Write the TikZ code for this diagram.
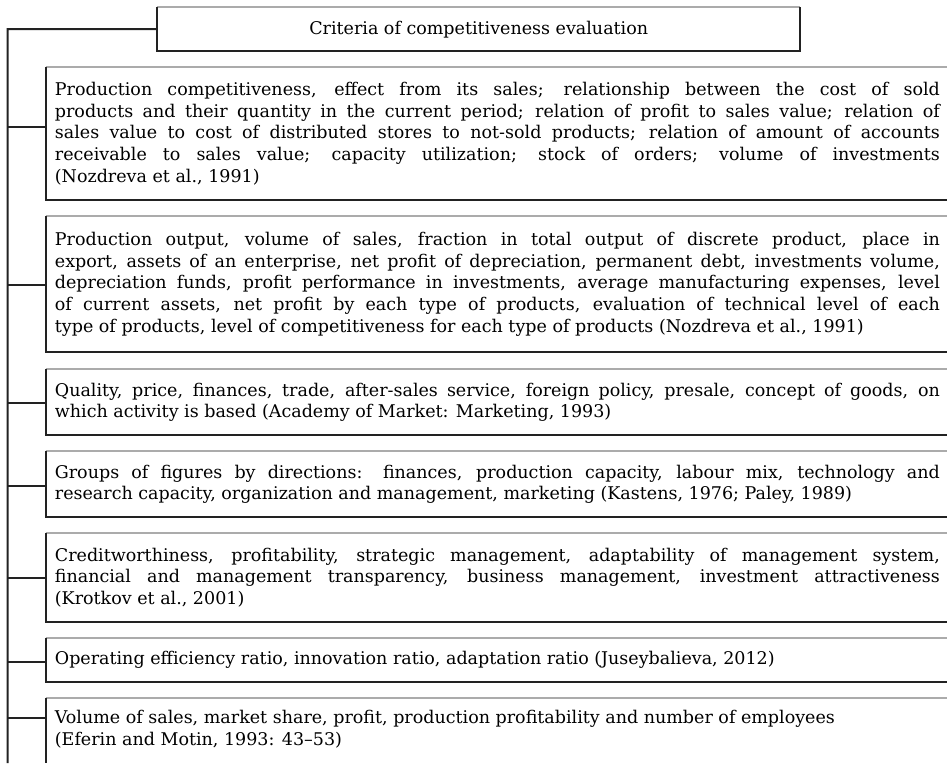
\documentclass[tikz,border=0pt]{standalone}
\usepackage{tikz}
\usepackage{xcolor}
\usepackage{fontspec}
\setmainfont{DejaVu Serif}
\usetikzlibrary{calc}

\definecolor{edge}{HTML}{222222}
\definecolor{rim}{HTML}{ABABAB}

\tikzset{
	crit/.style={anchor=north west, inner xsep=9pt, inner ysep=0pt, text width=885pt, align=justify, font=\fontsize{17.5}{21.7}\selectfont},
	dark/.style={draw=edge, line width=2pt},
	light/.style={draw=rim, line width=1.3pt},
}

\begin{document}
\begin{tikzpicture}[x=1pt,y=-1pt]
	\useasboundingbox (0,0) rectangle (947,763);
	
	% heading
	\node[anchor=north west, inner sep=0pt, minimum width=643pt, minimum height=44pt, font=\fontsize{17.5}{21.7}\selectfont] (head) at (157,7) {Criteria of competitiveness evaluation};
	
	% criteria
	\node[crit, minimum height=133pt] (c1) at (45.7,67) {Production competitiveness, effect from its sales; relationship between the cost of sold\linebreak products and their quantity in the current period; relation of profit to sales value; relation of\linebreak sales value to cost of distributed stores to not-sold products; relation of amount of accounts\linebreak receivable to sales value; capacity utilization; stock of orders; volume of investments\linebreak (Nozdreva et al., 1991)};
	\node[crit, minimum height=136pt] (c2) at (45.7,216) {Production output, volume of sales, fraction in total output of discrete product, place in\linebreak export, assets of an enterprise, net profit of depreciation, permanent debt, investments volume,\linebreak depreciation funds, profit performance in investments, average manufacturing expenses, level\linebreak of current assets, net profit by each type of products, evaluation of technical level of each\linebreak type of products, level of competitiveness for each type of products (Nozdreva et al., 1991)};
	\node[crit, minimum height=66pt] (c3) at (45.7,369) {Quality, price, finances, trade, after-sales service, foreign policy, presale, concept of goods, on\linebreak which activity is based (Academy of Market: Marketing, 1993)};
	\node[crit, minimum height=66pt] (c4) at (45.7,451) {Groups of figures by directions: finances, production capacity, labour mix, technology and\linebreak research capacity, organization and management, marketing (Kastens, 1976; Paley, 1989)};
	\node[crit, minimum height=89pt] (c5) at (45.7,533) {Creditworthiness, profitability, strategic management, adaptability of management system,\linebreak financial and management transparency, business management, investment attractiveness\linebreak (Krotkov et al., 2001)};
	\node[crit, minimum height=44pt] (c6) at (45.7,638) {Operating efficiency ratio, innovation ratio, adaptation ratio (Juseybalieva, 2012)};
	\node[crit, minimum height=62pt] (c7) at (45.7,698) {Volume of sales, market share, profit, production profitability and number of employees\\ (Eferin and Motin, 1993: 43--53)};
	
	% frames
	\draw[light] (head.north west) -- (head.north east);
	\draw[dark] (head.north west) -- (head.south west) -- (head.south east) -- (head.north east);
	\draw[light] (c1.north west) -- (c1.north east);
	\draw[dark] (c1.south east) -- (c1.south west) -- (c1.north west);
	\draw[light] (c2.north west) -- (c2.north east);
	\draw[dark] (c2.south east) -- (c2.south west) -- (c2.north west);
	\draw[light] (c3.north west) -- (c3.north east);
	\draw[dark] (c3.south east) -- (c3.south west) -- (c3.north west);
	\draw[light] (c4.north west) -- (c4.north east);
	\draw[dark] (c4.south east) -- (c4.south west) -- (c4.north west);
	\draw[light] (c5.north west) -- (c5.north east);
	\draw[dark] (c5.south east) -- (c5.south west) -- (c5.north west);
	\draw[light] (c6.north west) -- (c6.north east);
	\draw[dark] (c6.south east) -- (c6.south west) -- (c6.north west);
	\draw[light] (c7.north west) -- (c7.north east);
	
	% trunk and branches
	\coordinate (top) at (7.5,29);
	\coordinate (bot) at (7.5,763);
	\draw[dark] (c7.north west) -- (c7.north west |- bot);
	\draw[dark] (bot) -- (top) -- (head.west);
	\draw[dark] ($(c1.north west)+(0,60)$) coordinate (j1) -- (j1 -| top);
	\draw[dark] ($(c2.north west)+(0,69)$) coordinate (j2) -- (j2 -| top);
	\draw[dark] ($(c3.north west)+(0,34)$) coordinate (j3) -- (j3 -| top);
	\draw[dark] ($(c4.north west)+(0,35)$) coordinate (j4) -- (j4 -| top);
	\draw[dark] ($(c5.north west)+(0,45)$) coordinate (j5) -- (j5 -| top);
	\draw[dark] ($(c6.north west)+(0,24)$) coordinate (j6) -- (j6 -| top);
	\draw[dark] ($(c7.north west)+(0,20)$) coordinate (j7) -- (j7 -| top);
	
\end{tikzpicture}
\end{document}
